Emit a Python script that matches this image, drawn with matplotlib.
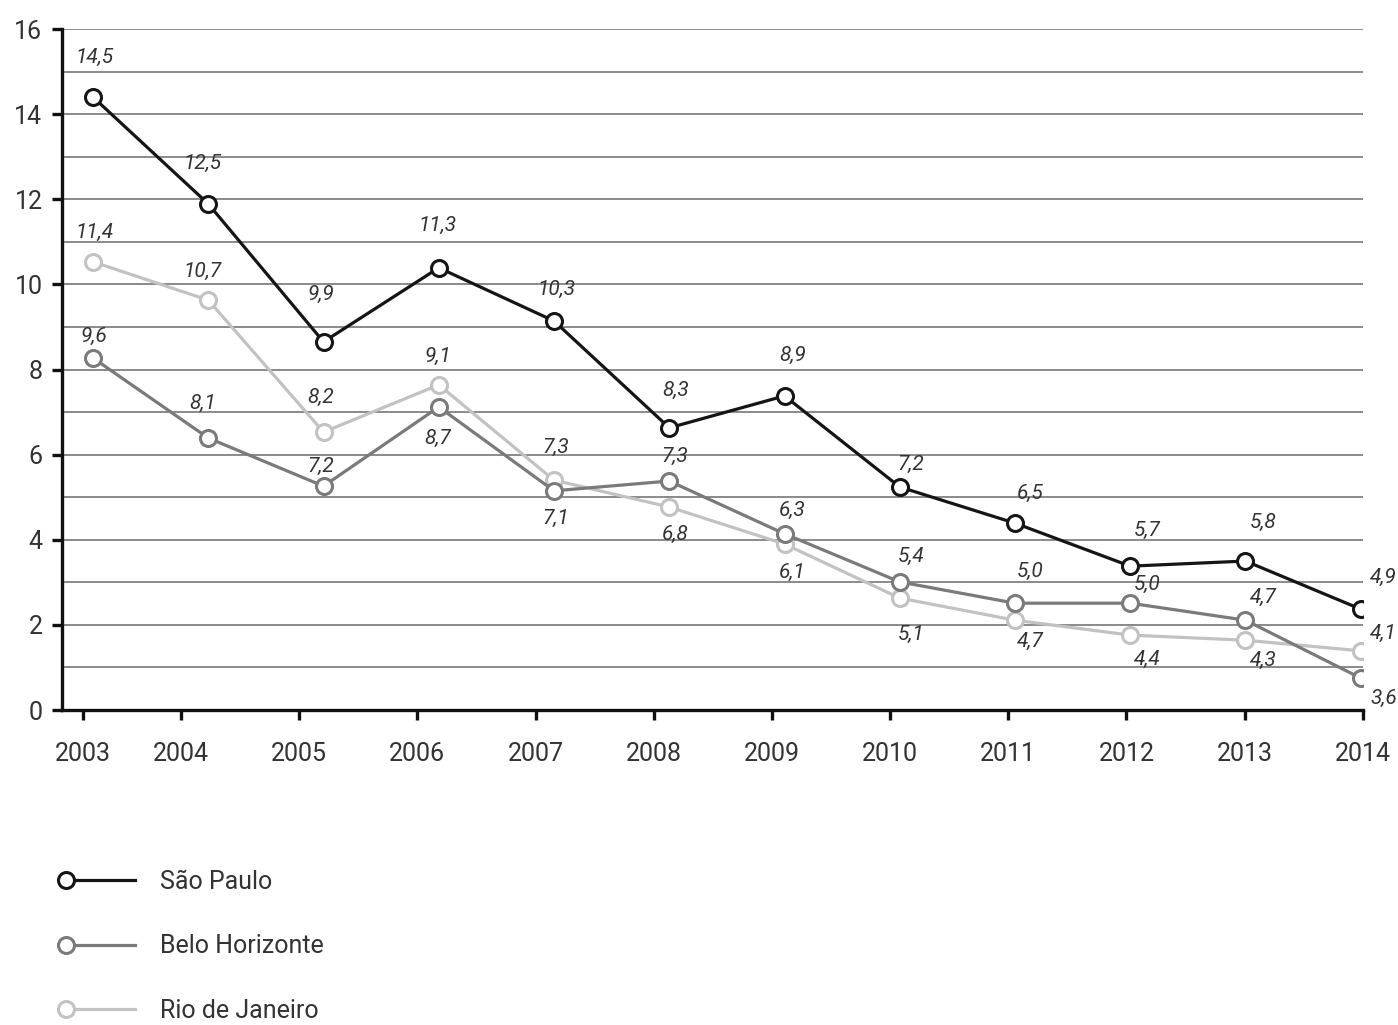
import numpy as np
import matplotlib
matplotlib.use("Agg")
import matplotlib.pyplot as plt
from matplotlib.legend_handler import HandlerLine2D

plt.rcParams["font.family"] = ["Roboto", "DejaVu Sans"]

years = ["2003", "2004", "2005", "2006", "2007", "2008",
         "2009", "2010", "2011", "2012", "2013", "2014"]
series_names = ["São Paulo", "Belo Horizonte", "Rio de Janeiro"]

# plotted heights (as drawn in the original)
sao_paulo = [14.40, 11.89, 8.65, 10.39, 9.14, 6.63, 7.38, 5.24, 4.39, 3.38, 3.50, 2.37]
belo_horizonte = [8.27, 6.39, 5.26, 7.12, 5.15, 5.38, 4.14, 3.01, 2.51, 2.51, 2.11, 0.75]
rio = [10.53, 9.63, 6.53, 7.64, 5.40, 4.77, 3.90, 2.63, 2.11, 1.76, 1.64, 1.39]

# printed value labels
sao_paulo_labels = ["14,5", "12,5", "9,9", "11,3", "10,3", "8,3", "8,9", "7,2", "6,5", "5,7", "5,8", "4,9"]
belo_horizonte_labels = ["9,6", "8,1", "7,2", "8,7", "7,1", "7,3", "6,3", "5,4", "5,0", "5,0", "4,7", "3,6"]
rio_labels = ["11,4", "10,7", "8,2", "9,1", "7,3", "6,8", "6,1", "5,1", "4,7", "4,4", "4,3", "4,1"]

colors = ["#151515", "#7a7a7a", "#c2c2c2"]

# label offsets in pixels (dx shared per year, dy per series; + is up)
label_dx = [1, -6, -3, -1, 2, 6, 8, 11, 15, 17, 18, 23]
label_dy = [
    [40, 41, 47, 42, 32, 37, 40, 23, 30, 36, 39, 32],
    [22, 35, 20, -31, -28, 25, 23, 25, 32, 19, 23, -20],
    [29, 29, 35, 28, 33, -27, -28, -36, -21, -24, -20, 17],
]


class HandlerLeftMarker(HandlerLine2D):
    # put the legend marker at the left end of the sample line
    def create_artists(self, *args, **kwargs):
        arts = super().create_artists(*args, **kwargs)
        for a in arts:
            a.set_markevery([0])
        return arts


fig = plt.figure(figsize=(13.98, 10.25), dpi=100)
ax = fig.add_axes([0.0443, 0.3073, 0.9307, 0.6644])

x = np.arange(len(years))
all_vals = [sao_paulo, belo_horizonte, rio]
all_labels = [sao_paulo_labels, belo_horizonte_labels, rio_labels]
px = 72 / 100

handles = []
for k in [2, 1, 0]:
    line, = ax.plot(x, all_vals[k], color=colors[k], lw=2.3, marker="o",
                    markersize=11.5, markerfacecolor="white",
                    markeredgecolor=colors[k], markeredgewidth=2.2,
                    zorder=3 + (2 - k), label=series_names[k])
    handles.append(line)
    for i, (v, lab) in enumerate(zip(all_vals[k], all_labels[k])):
        ax.annotate(lab, (x[i], v), xytext=(label_dx[i] * px, label_dy[k][i] * px),
                    textcoords="offset points", ha="center", va="center",
                    fontsize=15, style="italic", color="#333333", zorder=6)

ax.set_ylim(0, 16)
ax.set_xlim(-0.27, 11.02)
ax.set_yticks(np.arange(0, 17, 2))
ax.set_yticks(np.arange(1, 16, 2), minor=True)
ax.tick_params(axis="y", which="minor", length=0)
ax.grid(axis="y", which="both", color="#8a8a8a", lw=1.4, zorder=0)
ax.set_axisbelow(True)

tick_x = [-0.09] + list(0.763 + 1.0255 * np.arange(11))
ax.set_xticks(tick_x)
ax.set_xticklabels(years)

for side in ["top", "right"]:
    ax.spines[side].set_visible(False)
for side in ["left", "bottom"]:
    ax.spines[side].set_linewidth(2.4)
    ax.spines[side].set_color("#111111")

ax.tick_params(axis="y", which="major", length=7, width=2.4, pad=7,
               labelsize=18, labelcolor="#333333", color="#111111")
ax.tick_params(axis="x", length=7, width=2.4, pad=16,
               labelsize=18, labelcolor="#333333", color="#111111")

handles = handles[::-1]
fig.legend(handles, series_names, loc="upper left",
           bbox_to_anchor=(0.040, 0.161), frameon=False, fontsize=18,
           handlelength=2.76, handletextpad=1.0, labelspacing=1.62,
           borderaxespad=0, labelcolor="#333333",
           handler_map={h: HandlerLeftMarker() for h in handles})

fig.savefig("out.png", dpi=100)
